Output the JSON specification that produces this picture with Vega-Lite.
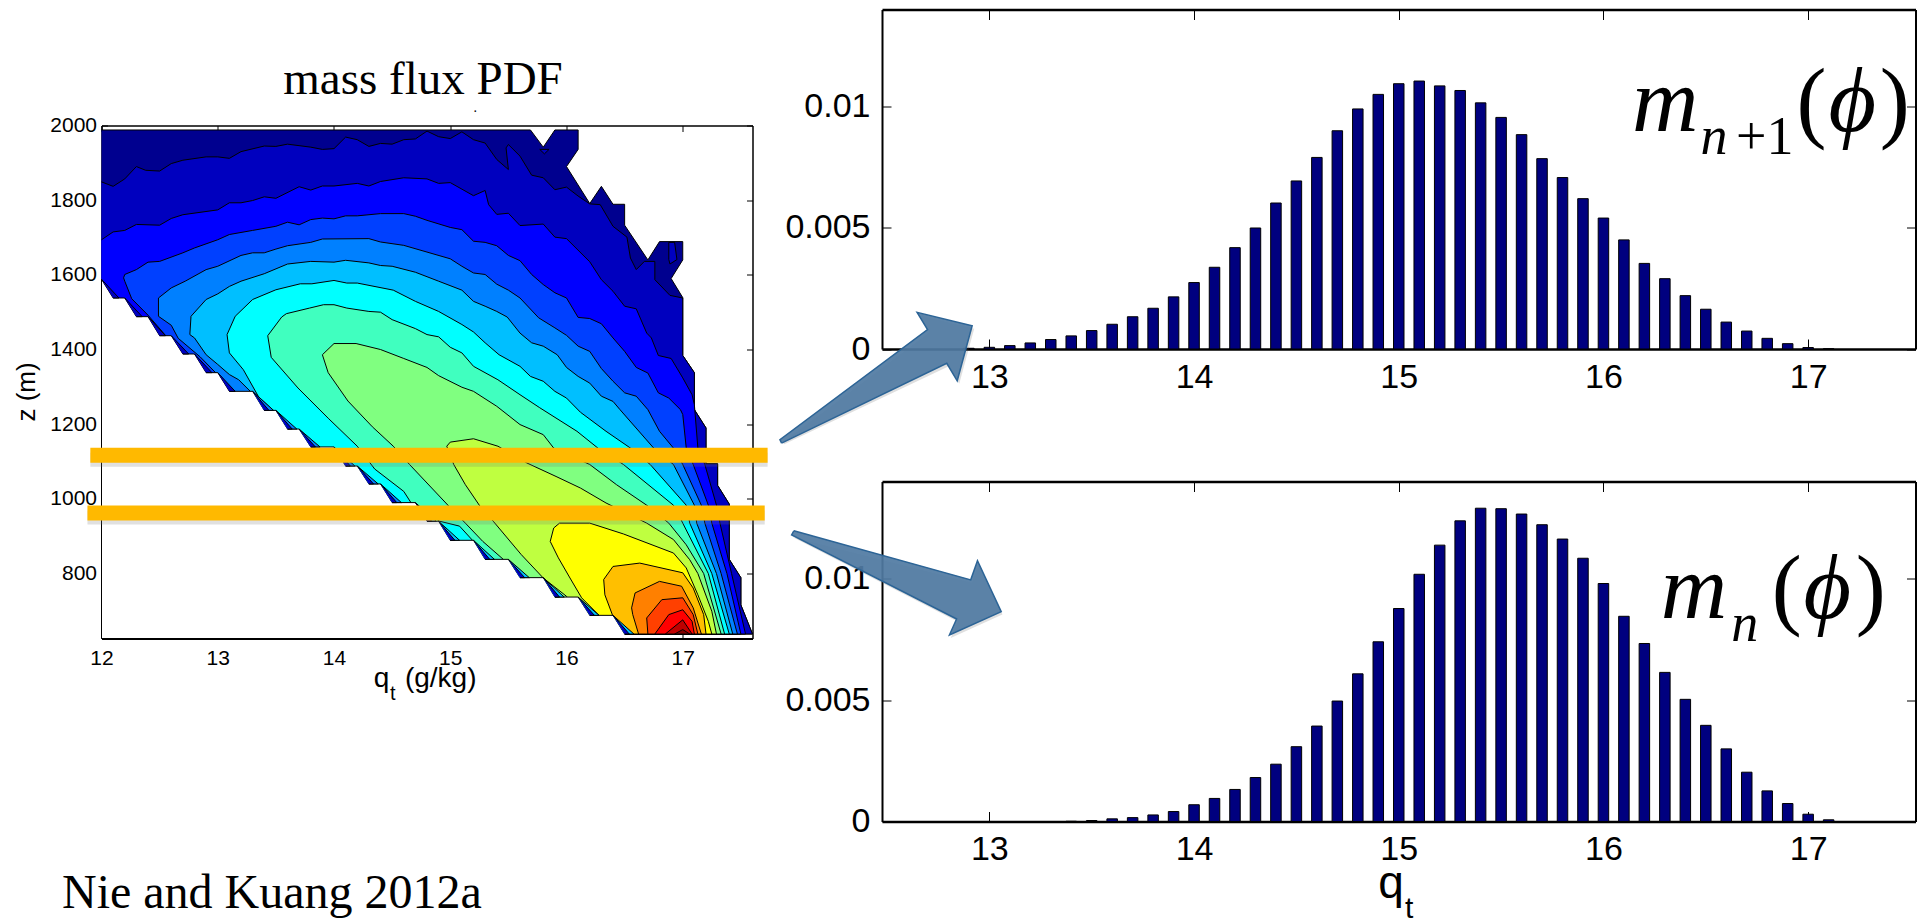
{"$schema":"https://vega.github.io/schema/vega-lite/v6.json","background":"white","padding":{"left":13.5,"top":8.5,"right":0,"bottom":0},"bounds":"flush","spacing":780.5,"config":{"view":{"stroke":null},"axis":{"grid":false,"labelFont":"Liberation Sans","titleFont":"Liberation Sans","labelColor":"black","titleColor":"black","domainColor":"black","tickColor":"black","labelOverlap":false,"labelBound":false,"labelFlush":false,"titleFontWeight":"normal"}},"hconcat":[{"bounds":"flush","spacing":0,"vconcat":[{"width":651,"height":116,"data":{"values":[{"label":"mass flux PDF"}]},"mark":{"type":"text","font":"Liberation Serif","fontSize":47,"dy":26,"dx":-4,"baseline":"alphabetic","color":"black"},"encoding":{"text":{"field":"label"}}},{"width":651,"height":513,"resolve":{"axis":{"x":"independent","y":"independent"}},"encoding":{"x":{"field":"qt","type":"quantitative","scale":{"domain":[12,17.6],"nice":false,"zero":false},"axis":null},"y":{"field":"z","type":"quantitative","scale":{"domain":[626,2000],"nice":false,"zero":false},"axis":null}},"layer":[{"data":{"values":[{"level":"L1","qt":12,"z":1988},{"level":"L1","qt":15.69,"z":1988},{"level":"L1","qt":15.8,"z":1942},{"level":"L1","qt":15.9,"z":1988},{"level":"L1","qt":16.1,"z":1988},{"level":"L1","qt":16.1,"z":1936},{"level":"L1","qt":16,"z":1890},{"level":"L1","qt":16.2,"z":1791},{"level":"L1","qt":16.3,"z":1837},{"level":"L1","qt":16.4,"z":1789},{"level":"L1","qt":16.5,"z":1789},{"level":"L1","qt":16.5,"z":1733},{"level":"L1","qt":16.7,"z":1640},{"level":"L1","qt":16.8,"z":1689},{"level":"L1","qt":17,"z":1689},{"level":"L1","qt":17,"z":1640},{"level":"L1","qt":16.9,"z":1590},{"level":"L1","qt":17,"z":1539},{"level":"L1","qt":17,"z":1384},{"level":"L1","qt":17.1,"z":1338},{"level":"L1","qt":17.1,"z":1239},{"level":"L1","qt":17.2,"z":1190},{"level":"L1","qt":17.2,"z":1094},{"level":"L1","qt":17.3,"z":1094},{"level":"L1","qt":17.3,"z":1036},{"level":"L1","qt":17.4,"z":986},{"level":"L1","qt":17.4,"z":838},{"level":"L1","qt":17.5,"z":789},{"level":"L1","qt":17.5,"z":716},{"level":"L1","qt":17.6,"z":638},{"level":"L1","qt":16,"z":638},{"level":"L1","qt":12,"z":1400},
{"level":"L2","qt":12,"z":1849},{"level":"L2","qt":12.1,"z":1837},{"level":"L2","qt":12.2,"z":1857},{"level":"L2","qt":12.3,"z":1890},{"level":"L2","qt":12.38,"z":1880},{"level":"L2","qt":12.5,"z":1878},{"level":"L2","qt":12.6,"z":1898},{"level":"L2","qt":12.7,"z":1907},{"level":"L2","qt":12.9,"z":1916},{"level":"L2","qt":13,"z":1916},{"level":"L2","qt":13.1,"z":1912},{"level":"L2","qt":13.2,"z":1930},{"level":"L2","qt":13.4,"z":1945},{"level":"L2","qt":13.5,"z":1944},{"level":"L2","qt":13.6,"z":1950},{"level":"L2","qt":13.8,"z":1942},{"level":"L2","qt":13.9,"z":1936},{"level":"L2","qt":14,"z":1938},{"level":"L2","qt":14.1,"z":1969},{"level":"L2","qt":14.2,"z":1962},{"level":"L2","qt":14.3,"z":1944},{"level":"L2","qt":14.4,"z":1952},{"level":"L2","qt":14.5,"z":1950},{"level":"L2","qt":14.6,"z":1962},{"level":"L2","qt":14.7,"z":1964},{"level":"L2","qt":14.8,"z":1985},{"level":"L2","qt":14.9,"z":1970},{"level":"L2","qt":15,"z":1965},{"level":"L2","qt":15.1,"z":1983},{"level":"L2","qt":15.2,"z":1962},{"level":"L2","qt":15.3,"z":1953},{"level":"L2","qt":15.4,"z":1909},{"level":"L2","qt":15.5,"z":1882},{"level":"L2","qt":15.48,"z":1940},{"level":"L2","qt":15.5,"z":1949},{"level":"L2","qt":15.6,"z":1918},{"level":"L2","qt":15.7,"z":1867},{"level":"L2","qt":15.8,"z":1860},{"level":"L2","qt":15.9,"z":1828},{"level":"L2","qt":16,"z":1835},{"level":"L2","qt":16.1,"z":1811},{"level":"L2","qt":16.2,"z":1790},{"level":"L2","qt":16.29,"z":1788},{"level":"L2","qt":16.4,"z":1730},{"level":"L2","qt":16.52,"z":1701},{"level":"L2","qt":16.55,"z":1645},{"level":"L2","qt":16.6,"z":1614},{"level":"L2","qt":16.67,"z":1636},{"level":"L2","qt":16.76,"z":1636},{"level":"L2","qt":16.76,"z":1587},{"level":"L2","qt":16.89,"z":1545},{"level":"L2","qt":17,"z":1538},{"level":"L2","qt":17,"z":1384},{"level":"L2","qt":17.1,"z":1338},{"level":"L2","qt":17.1,"z":1239},{"level":"L2","qt":17.2,"z":1190},{"level":"L2","qt":17.2,"z":1094},{"level":"L2","qt":17.3,"z":1094},{"level":"L2","qt":17.3,"z":1036},{"level":"L2","qt":17.4,"z":986},{"level":"L2","qt":17.4,"z":838},{"level":"L2","qt":17.5,"z":789},{"level":"L2","qt":17.5,"z":716},{"level":"L2","qt":17.6,"z":638},{"level":"L2","qt":16,"z":638},{"level":"L2","qt":12,"z":1400},
{"level":"L2","part":1,"qt":15.77,"z":1936},{"level":"L2","part":1,"qt":15.85,"z":1936},{"level":"L2","part":1,"qt":15.81,"z":1924},{"level":"L2","part":1,"qt":15.77,"z":1936},
{"level":"L2","part":2,"qt":16.88,"z":1687},{"level":"L2","part":2,"qt":16.93,"z":1687},{"level":"L2","part":2,"qt":16.95,"z":1641},{"level":"L2","part":2,"qt":16.89,"z":1629},{"level":"L2","part":2,"qt":16.88,"z":1641},{"level":"L2","part":2,"qt":16.88,"z":1687},
{"level":"L3","qt":12,"z":1694},{"level":"L3","qt":12.1,"z":1715},{"level":"L3","qt":12.2,"z":1719},{"level":"L3","qt":12.3,"z":1735},{"level":"L3","qt":12.5,"z":1733},{"level":"L3","qt":12.6,"z":1751},{"level":"L3","qt":12.7,"z":1761},{"level":"L3","qt":13,"z":1774},{"level":"L3","qt":13.1,"z":1793},{"level":"L3","qt":13.2,"z":1793},{"level":"L3","qt":13.3,"z":1799},{"level":"L3","qt":13.4,"z":1809},{"level":"L3","qt":13.5,"z":1805},{"level":"L3","qt":13.7,"z":1836},{"level":"L3","qt":13.8,"z":1827},{"level":"L3","qt":13.9,"z":1838},{"level":"L3","qt":14,"z":1838},{"level":"L3","qt":14.2,"z":1845},{"level":"L3","qt":14.3,"z":1838},{"level":"L3","qt":14.4,"z":1850},{"level":"L3","qt":14.6,"z":1860},{"level":"L3","qt":14.8,"z":1857},{"level":"L3","qt":14.9,"z":1845},{"level":"L3","qt":15,"z":1847},{"level":"L3","qt":15.2,"z":1812},{"level":"L3","qt":15.3,"z":1826},{"level":"L3","qt":15.33,"z":1788},{"level":"L3","qt":15.4,"z":1762},{"level":"L3","qt":15.5,"z":1765},{"level":"L3","qt":15.6,"z":1732},{"level":"L3","qt":15.8,"z":1736},{"level":"L3","qt":15.9,"z":1701},{"level":"L3","qt":16,"z":1697},{"level":"L3","qt":16.2,"z":1635},{"level":"L3","qt":16.3,"z":1587},{"level":"L3","qt":16.4,"z":1556},{"level":"L3","qt":16.5,"z":1516},{"level":"L3","qt":16.6,"z":1509},{"level":"L3","qt":16.69,"z":1444},{"level":"L3","qt":16.73,"z":1431},{"level":"L3","qt":16.79,"z":1384},{"level":"L3","qt":16.9,"z":1376},{"level":"L3","qt":17,"z":1324},{"level":"L3","qt":17.08,"z":1279},{"level":"L3","qt":17.1,"z":1252},{"level":"L3","qt":17.13,"z":1136},{"level":"L3","qt":17.19,"z":1092},{"level":"L3","qt":17.29,"z":983},{"level":"L3","qt":17.32,"z":935},{"level":"L3","qt":17.42,"z":800},{"level":"L3","qt":17.54,"z":638},{"level":"L3","qt":16,"z":638},{"level":"L3","qt":12,"z":1400},
{"level":"L4","qt":12.19,"z":1592},{"level":"L4","qt":12.2,"z":1601},{"level":"L4","qt":12.3,"z":1614},{"level":"L4","qt":12.4,"z":1634},{"level":"L4","qt":12.5,"z":1636},{"level":"L4","qt":12.7,"z":1659},{"level":"L4","qt":12.8,"z":1672},{"level":"L4","qt":13,"z":1694},{"level":"L4","qt":13.1,"z":1708},{"level":"L4","qt":13.3,"z":1719},{"level":"L4","qt":13.5,"z":1730},{"level":"L4","qt":13.6,"z":1741},{"level":"L4","qt":13.7,"z":1734},{"level":"L4","qt":13.8,"z":1748},{"level":"L4","qt":13.9,"z":1752},{"level":"L4","qt":14,"z":1750},{"level":"L4","qt":14.1,"z":1758},{"level":"L4","qt":14.2,"z":1758},{"level":"L4","qt":14.4,"z":1764},{"level":"L4","qt":14.6,"z":1764},{"level":"L4","qt":14.7,"z":1757},{"level":"L4","qt":14.8,"z":1746},{"level":"L4","qt":15,"z":1727},{"level":"L4","qt":15.1,"z":1721},{"level":"L4","qt":15.2,"z":1690},{"level":"L4","qt":15.3,"z":1687},{"level":"L4","qt":15.4,"z":1678},{"level":"L4","qt":15.5,"z":1652},{"level":"L4","qt":15.6,"z":1638},{"level":"L4","qt":15.7,"z":1601},{"level":"L4","qt":15.8,"z":1574},{"level":"L4","qt":15.9,"z":1552},{"level":"L4","qt":16,"z":1538},{"level":"L4","qt":16.1,"z":1486},{"level":"L4","qt":16.2,"z":1483},{"level":"L4","qt":16.3,"z":1469},{"level":"L4","qt":16.4,"z":1431},{"level":"L4","qt":16.5,"z":1395},{"level":"L4","qt":16.6,"z":1352},{"level":"L4","qt":16.7,"z":1337},{"level":"L4","qt":16.79,"z":1284},{"level":"L4","qt":16.88,"z":1270},{"level":"L4","qt":16.98,"z":1239},{"level":"L4","qt":17,"z":1226},{"level":"L4","qt":17.03,"z":1136},{"level":"L4","qt":17.09,"z":1092},{"level":"L4","qt":17.22,"z":983},{"level":"L4","qt":17.25,"z":935},{"level":"L4","qt":17.38,"z":800},{"level":"L4","qt":17.5,"z":638},{"level":"L4","qt":16,"z":638},{"level":"L4","qt":13.3,"z":1200},{"level":"L4","qt":12.6,"z":1420},{"level":"L4","qt":12.4,"z":1492},{"level":"L4","qt":12.26,"z":1536},{"level":"L4","qt":12.2,"z":1583},{"level":"L4","qt":12.19,"z":1592},
{"level":"L5","qt":12.49,"z":1538},{"level":"L5","qt":12.6,"z":1565},{"level":"L5","qt":12.72,"z":1583},{"level":"L5","qt":12.9,"z":1614},{"level":"L5","qt":13,"z":1623},{"level":"L5","qt":13.2,"z":1652},{"level":"L5","qt":13.3,"z":1659},{"level":"L5","qt":13.4,"z":1659},{"level":"L5","qt":13.5,"z":1669},{"level":"L5","qt":13.6,"z":1678},{"level":"L5","qt":13.8,"z":1687},{"level":"L5","qt":13.9,"z":1696},{"level":"L5","qt":14.3,"z":1697},{"level":"L5","qt":14.4,"z":1688},{"level":"L5","qt":14.6,"z":1679},{"level":"L5","qt":14.8,"z":1661},{"level":"L5","qt":15,"z":1643},{"level":"L5","qt":15.1,"z":1623},{"level":"L5","qt":15.2,"z":1605},{"level":"L5","qt":15.3,"z":1601},{"level":"L5","qt":15.4,"z":1575},{"level":"L5","qt":15.5,"z":1559},{"level":"L5","qt":15.6,"z":1538},{"level":"L5","qt":15.76,"z":1485},{"level":"L5","qt":15.9,"z":1458},{"level":"L5","qt":16,"z":1438},{"level":"L5","qt":16.1,"z":1409},{"level":"L5","qt":16.2,"z":1395},{"level":"L5","qt":16.3,"z":1349},{"level":"L5","qt":16.4,"z":1315},{"level":"L5","qt":16.5,"z":1284},{"level":"L5","qt":16.6,"z":1275},{"level":"L5","qt":16.7,"z":1239},{"level":"L5","qt":16.8,"z":1181},{"level":"L5","qt":16.92,"z":1136},{"level":"L5","qt":17,"z":1092},{"level":"L5","qt":17.16,"z":983},{"level":"L5","qt":17.19,"z":935},{"level":"L5","qt":17.33,"z":800},{"level":"L5","qt":17.47,"z":638},{"level":"L5","qt":16,"z":638},{"level":"L5","qt":13.4,"z":1150},{"level":"L5","qt":13.2,"z":1240},{"level":"L5","qt":13.1,"z":1300},{"level":"L5","qt":12.85,"z":1380},{"level":"L5","qt":12.66,"z":1430},{"level":"L5","qt":12.6,"z":1465},{"level":"L5","qt":12.49,"z":1489},{"level":"L5","qt":12.49,"z":1538},
{"level":"L6","qt":12.76,"z":1440},{"level":"L6","qt":12.77,"z":1489},{"level":"L6","qt":12.9,"z":1534},{"level":"L6","qt":13,"z":1549},{"level":"L6","qt":13.1,"z":1569},{"level":"L6","qt":13.2,"z":1583},{"level":"L6","qt":13.4,"z":1603},{"level":"L6","qt":13.6,"z":1629},{"level":"L6","qt":13.8,"z":1636},{"level":"L6","qt":14,"z":1634},{"level":"L6","qt":14.1,"z":1639},{"level":"L6","qt":14.3,"z":1632},{"level":"L6","qt":14.4,"z":1625},{"level":"L6","qt":14.5,"z":1623},{"level":"L6","qt":14.7,"z":1607},{"level":"L6","qt":14.9,"z":1583},{"level":"L6","qt":15.1,"z":1559},{"level":"L6","qt":15.2,"z":1529},{"level":"L6","qt":15.3,"z":1516},{"level":"L6","qt":15.4,"z":1502},{"level":"L6","qt":15.49,"z":1487},{"level":"L6","qt":15.6,"z":1444},{"level":"L6","qt":15.7,"z":1418},{"level":"L6","qt":15.8,"z":1409},{"level":"L6","qt":15.92,"z":1386},{"level":"L6","qt":16,"z":1352},{"level":"L6","qt":16.1,"z":1328},{"level":"L6","qt":16.2,"z":1310},{"level":"L6","qt":16.3,"z":1275},{"level":"L6","qt":16.4,"z":1261},{"level":"L6","qt":16.46,"z":1239},{"level":"L6","qt":16.75,"z":1136},{"level":"L6","qt":16.92,"z":1092},{"level":"L6","qt":17.1,"z":983},{"level":"L6","qt":17.12,"z":935},{"level":"L6","qt":17.29,"z":800},{"level":"L6","qt":17.43,"z":638},{"level":"L6","qt":16,"z":638},{"level":"L6","qt":13.6,"z":1100},{"level":"L6","qt":13.35,"z":1240},{"level":"L6","qt":13.28,"z":1288},{"level":"L6","qt":13.18,"z":1319},{"level":"L6","qt":13.1,"z":1333},{"level":"L6","qt":13,"z":1360},{"level":"L6","qt":12.9,"z":1386},{"level":"L6","qt":12.8,"z":1431},{"level":"L6","qt":12.76,"z":1440},
{"level":"L7","qt":13.08,"z":1440},{"level":"L7","qt":13.15,"z":1489},{"level":"L7","qt":13.3,"z":1534},{"level":"L7","qt":13.5,"z":1560},{"level":"L7","qt":13.71,"z":1576},{"level":"L7","qt":13.81,"z":1576},{"level":"L7","qt":14,"z":1585},{"level":"L7","qt":14.11,"z":1578},{"level":"L7","qt":14.2,"z":1578},{"level":"L7","qt":14.51,"z":1559},{"level":"L7","qt":14.7,"z":1529},{"level":"L7","qt":14.9,"z":1502},{"level":"L7","qt":15.1,"z":1467},{"level":"L7","qt":15.2,"z":1447},{"level":"L7","qt":15.3,"z":1418},{"level":"L7","qt":15.42,"z":1386},{"level":"L7","qt":15.6,"z":1355},{"level":"L7","qt":15.69,"z":1328},{"level":"L7","qt":15.8,"z":1315},{"level":"L7","qt":15.9,"z":1288},{"level":"L7","qt":16,"z":1270},{"level":"L7","qt":16.12,"z":1232},{"level":"L7","qt":16.34,"z":1181},{"level":"L7","qt":16.55,"z":1136},{"level":"L7","qt":16.72,"z":1092},{"level":"L7","qt":17.03,"z":983},{"level":"L7","qt":17.06,"z":935},{"level":"L7","qt":17.25,"z":800},{"level":"L7","qt":17.4,"z":638},{"level":"L7","qt":16,"z":638},{"level":"L7","qt":14,"z":1000},{"level":"L7","qt":13.78,"z":1146},{"level":"L7","qt":13.35,"z":1274},{"level":"L7","qt":13.22,"z":1346},{"level":"L7","qt":13.1,"z":1391},{"level":"L7","qt":13.08,"z":1440},
{"level":"L8","qt":13.43,"z":1437},{"level":"L8","qt":13.55,"z":1487},{"level":"L8","qt":13.59,"z":1496},{"level":"L8","qt":13.79,"z":1511},{"level":"L8","qt":13.91,"z":1520},{"level":"L8","qt":14,"z":1520},{"level":"L8","qt":14.11,"z":1511},{"level":"L8","qt":14.3,"z":1502},{"level":"L8","qt":14.4,"z":1500},{"level":"L8","qt":14.5,"z":1480},{"level":"L8","qt":14.7,"z":1456},{"level":"L8","qt":14.8,"z":1440},{"level":"L8","qt":14.9,"z":1434},{"level":"L8","qt":15,"z":1406},{"level":"L8","qt":15.1,"z":1391},{"level":"L8","qt":15.2,"z":1355},{"level":"L8","qt":15.41,"z":1319},{"level":"L8","qt":15.6,"z":1279},{"level":"L8","qt":15.77,"z":1244},{"level":"L8","qt":16.09,"z":1181},{"level":"L8","qt":16.27,"z":1136},{"level":"L8","qt":16.49,"z":1092},{"level":"L8","qt":16.92,"z":983},{"level":"L8","qt":17,"z":935},{"level":"L8","qt":17.22,"z":800},{"level":"L8","qt":17.36,"z":638},{"level":"L8","qt":16,"z":638},{"level":"L8","qt":15.3,"z":800},{"level":"L8","qt":15.2,"z":886},{"level":"L8","qt":15.08,"z":927},{"level":"L8","qt":14.91,"z":940},{"level":"L8","qt":14.67,"z":986},{"level":"L8","qt":14.6,"z":1020},{"level":"L8","qt":14.35,"z":1080},{"level":"L8","qt":14.2,"z":1141},{"level":"L8","qt":13.95,"z":1216},{"level":"L8","qt":13.69,"z":1297},{"level":"L8","qt":13.46,"z":1379},{"level":"L8","qt":13.43,"z":1437},
{"level":"L9","qt":13.9,"z":1386},{"level":"L9","qt":14,"z":1416},{"level":"L9","qt":14.19,"z":1416},{"level":"L9","qt":14.4,"z":1400},{"level":"L9","qt":14.6,"z":1376},{"level":"L9","qt":14.8,"z":1352},{"level":"L9","qt":14.9,"z":1330},{"level":"L9","qt":15.1,"z":1299},{"level":"L9","qt":15.2,"z":1288},{"level":"L9","qt":15.4,"z":1248},{"level":"L9","qt":15.6,"z":1199},{"level":"L9","qt":15.8,"z":1172},{"level":"L9","qt":15.89,"z":1136},{"level":"L9","qt":16.2,"z":1092},{"level":"L9","qt":16.43,"z":1038},{"level":"L9","qt":16.69,"z":983},{"level":"L9","qt":16.88,"z":935},{"level":"L9","qt":17.03,"z":877},{"level":"L9","qt":17.18,"z":800},{"level":"L9","qt":17.33,"z":638},{"level":"L9","qt":16,"z":638},{"level":"L9","qt":15.6,"z":780},{"level":"L9","qt":15.46,"z":837},{"level":"L9","qt":15.28,"z":886},{"level":"L9","qt":15.13,"z":935},{"level":"L9","qt":14.98,"z":983},{"level":"L9","qt":14.65,"z":1092},{"level":"L9","qt":14.51,"z":1141},{"level":"L9","qt":14.33,"z":1193},{"level":"L9","qt":14.12,"z":1262},{"level":"L9","qt":13.95,"z":1338},{"level":"L9","qt":13.9,"z":1386},
{"level":"L10","qt":14.97,"z":1141},{"level":"L10","qt":15,"z":1152},{"level":"L10","qt":15.2,"z":1161},{"level":"L10","qt":15.41,"z":1141},{"level":"L10","qt":15.66,"z":1096},{"level":"L10","qt":15.91,"z":1060},{"level":"L10","qt":16.12,"z":1029},{"level":"L10","qt":16.34,"z":989},{"level":"L10","qt":16.69,"z":935},{"level":"L10","qt":16.92,"z":891},{"level":"L10","qt":17.06,"z":837},{"level":"L10","qt":17.13,"z":800},{"level":"L10","qt":17.25,"z":699},{"level":"L10","qt":17.29,"z":638},{"level":"L10","qt":16.2,"z":638},{"level":"L10","qt":16,"z":739},{"level":"L10","qt":15.8,"z":788},{"level":"L10","qt":15.61,"z":851},{"level":"L10","qt":15.37,"z":940},{"level":"L10","qt":15.25,"z":983},{"level":"L10","qt":15.13,"z":1038},{"level":"L10","qt":15.03,"z":1092},{"level":"L10","qt":14.97,"z":1141},
{"level":"L11","qt":15.86,"z":886},{"level":"L11","qt":15.89,"z":922},{"level":"L11","qt":15.94,"z":935},{"level":"L11","qt":16.2,"z":935},{"level":"L11","qt":16.49,"z":906},{"level":"L11","qt":16.92,"z":855},{"level":"L11","qt":17.03,"z":815},{"level":"L11","qt":17.13,"z":743},{"level":"L11","qt":17.22,"z":672},{"level":"L11","qt":17.25,"z":638},{"level":"L11","qt":16.3,"z":638},{"level":"L11","qt":16.29,"z":685},{"level":"L11","qt":16.13,"z":735},{"level":"L11","qt":16.03,"z":788},{"level":"L11","qt":15.93,"z":842},{"level":"L11","qt":15.86,"z":886},
{"level":"L12","qt":16.32,"z":784},{"level":"L12","qt":16.4,"z":819},{"level":"L12","qt":16.63,"z":828},{"level":"L12","qt":17,"z":802},{"level":"L12","qt":17.09,"z":761},{"level":"L12","qt":17.18,"z":690},{"level":"L12","qt":17.2,"z":638},{"level":"L12","qt":16.5,"z":638},{"level":"L12","qt":16.4,"z":685},{"level":"L12","qt":16.33,"z":743},{"level":"L12","qt":16.32,"z":784},
{"level":"L13","qt":16.62,"z":638},{"level":"L13","qt":16.57,"z":690},{"level":"L13","qt":16.56,"z":708},{"level":"L13","qt":16.59,"z":748},{"level":"L13","qt":16.8,"z":779},{"level":"L13","qt":16.99,"z":766},{"level":"L13","qt":17.09,"z":708},{"level":"L13","qt":17.16,"z":638},{"level":"L13","qt":16.62,"z":638},
{"level":"L14","qt":16.7,"z":638},{"level":"L14","qt":16.69,"z":681},{"level":"L14","qt":16.82,"z":730},{"level":"L14","qt":17,"z":735},{"level":"L14","qt":17.09,"z":690},{"level":"L14","qt":17.13,"z":638},{"level":"L14","qt":16.7,"z":638},
{"level":"L15","qt":16.76,"z":638},{"level":"L15","qt":16.88,"z":690},{"level":"L15","qt":17,"z":703},{"level":"L15","qt":17.08,"z":672},{"level":"L15","qt":17.1,"z":638},{"level":"L15","qt":16.76,"z":638},
{"level":"L16","qt":16.85,"z":638},{"level":"L16","qt":17,"z":676},{"level":"L16","qt":17.08,"z":638},{"level":"L16","qt":16.85,"z":638},
{"level":"L17","qt":16.93,"z":638},{"level":"L17","qt":17,"z":650},{"level":"L17","qt":17.06,"z":638},{"level":"L17","qt":16.93,"z":638},
{"level":"empty","qt":16.5,"z":638},{"level":"empty","qt":16.4,"z":688},{"level":"empty","qt":16.2,"z":688},{"level":"empty","qt":16.1,"z":737},{"level":"empty","qt":15.9,"z":737},{"level":"empty","qt":15.8,"z":789},{"level":"empty","qt":15.6,"z":789},{"level":"empty","qt":15.5,"z":838},{"level":"empty","qt":15.3,"z":838},{"level":"empty","qt":15.2,"z":889},{"level":"empty","qt":15,"z":889},{"level":"empty","qt":14.9,"z":940},{"level":"empty","qt":14.8,"z":940},{"level":"empty","qt":14.7,"z":990},{"level":"empty","qt":14.5,"z":990},{"level":"empty","qt":14.4,"z":1040},{"level":"empty","qt":14.3,"z":1040},{"level":"empty","qt":14.2,"z":1088},{"level":"empty","qt":14.1,"z":1088},{"level":"empty","qt":14,"z":1139},{"level":"empty","qt":13.8,"z":1139},{"level":"empty","qt":13.7,"z":1187},{"level":"empty","qt":13.6,"z":1187},{"level":"empty","qt":13.5,"z":1237},{"level":"empty","qt":13.4,"z":1237},{"level":"empty","qt":13.3,"z":1288},{"level":"empty","qt":13.1,"z":1288},{"level":"empty","qt":13,"z":1338},{"level":"empty","qt":12.9,"z":1338},{"level":"empty","qt":12.8,"z":1388},{"level":"empty","qt":12.7,"z":1388},{"level":"empty","qt":12.6,"z":1437},{"level":"empty","qt":12.5,"z":1437},{"level":"empty","qt":12.4,"z":1488},{"level":"empty","qt":12.3,"z":1488},{"level":"empty","qt":12.2,"z":1538},{"level":"empty","qt":12.1,"z":1538},{"level":"empty","qt":12,"z":1588},{"level":"empty","qt":12,"z":626},{"level":"empty","qt":16.5,"z":626},
{"level":"L6","part":11,"qt":16.5,"z":638},{"level":"L6","part":11,"qt":16.58,"z":638},{"level":"L6","part":11,"qt":16.4,"z":688},{"level":"L2","part":12,"qt":16.5,"z":638},{"level":"L2","part":12,"qt":16.54,"z":638},{"level":"L2","part":12,"qt":16.4,"z":688},
{"level":"L6","part":21,"qt":16.2,"z":688},{"level":"L6","part":21,"qt":16.28,"z":688},{"level":"L6","part":21,"qt":16.1,"z":737},{"level":"L2","part":22,"qt":16.2,"z":688},{"level":"L2","part":22,"qt":16.24,"z":688},{"level":"L2","part":22,"qt":16.1,"z":737},
{"level":"L6","part":31,"qt":15.9,"z":737},{"level":"L6","part":31,"qt":15.98,"z":737},{"level":"L6","part":31,"qt":15.8,"z":789},{"level":"L2","part":32,"qt":15.9,"z":737},{"level":"L2","part":32,"qt":15.94,"z":737},{"level":"L2","part":32,"qt":15.8,"z":789},
{"level":"L6","part":41,"qt":15.6,"z":789},{"level":"L6","part":41,"qt":15.68,"z":789},{"level":"L6","part":41,"qt":15.5,"z":838},{"level":"L2","part":42,"qt":15.6,"z":789},{"level":"L2","part":42,"qt":15.64,"z":789},{"level":"L2","part":42,"qt":15.5,"z":838},
{"level":"L6","part":51,"qt":15.3,"z":838},{"level":"L6","part":51,"qt":15.38,"z":838},{"level":"L6","part":51,"qt":15.2,"z":889},{"level":"L2","part":52,"qt":15.3,"z":838},{"level":"L2","part":52,"qt":15.34,"z":838},{"level":"L2","part":52,"qt":15.2,"z":889},
{"level":"L6","part":61,"qt":15,"z":889},{"level":"L6","part":61,"qt":15.08,"z":889},{"level":"L6","part":61,"qt":14.9,"z":940},{"level":"L2","part":62,"qt":15,"z":889},{"level":"L2","part":62,"qt":15.04,"z":889},{"level":"L2","part":62,"qt":14.9,"z":940},
{"level":"L5","part":71,"qt":14.8,"z":940},{"level":"L5","part":71,"qt":14.88,"z":940},{"level":"L5","part":71,"qt":14.7,"z":990},{"level":"L2","part":72,"qt":14.8,"z":940},{"level":"L2","part":72,"qt":14.84,"z":940},{"level":"L2","part":72,"qt":14.7,"z":990},
{"level":"L5","part":81,"qt":14.5,"z":990},{"level":"L5","part":81,"qt":14.58,"z":990},{"level":"L5","part":81,"qt":14.4,"z":1040},{"level":"L2","part":82,"qt":14.5,"z":990},{"level":"L2","part":82,"qt":14.54,"z":990},{"level":"L2","part":82,"qt":14.4,"z":1040},
{"level":"L5","part":91,"qt":14.3,"z":1040},{"level":"L5","part":91,"qt":14.38,"z":1040},{"level":"L5","part":91,"qt":14.2,"z":1088},{"level":"L2","part":92,"qt":14.3,"z":1040},{"level":"L2","part":92,"qt":14.34,"z":1040},{"level":"L2","part":92,"qt":14.2,"z":1088},
{"level":"L5","part":101,"qt":14.1,"z":1088},{"level":"L5","part":101,"qt":14.18,"z":1088},{"level":"L5","part":101,"qt":14,"z":1139},{"level":"L2","part":102,"qt":14.1,"z":1088},{"level":"L2","part":102,"qt":14.14,"z":1088},{"level":"L2","part":102,"qt":14,"z":1139},
{"level":"L5","part":111,"qt":13.8,"z":1139},{"level":"L5","part":111,"qt":13.88,"z":1139},{"level":"L5","part":111,"qt":13.7,"z":1187},{"level":"L2","part":112,"qt":13.8,"z":1139},{"level":"L2","part":112,"qt":13.84,"z":1139},{"level":"L2","part":112,"qt":13.7,"z":1187},
{"level":"L5","part":121,"qt":13.6,"z":1187},{"level":"L5","part":121,"qt":13.68,"z":1187},{"level":"L5","part":121,"qt":13.5,"z":1237},{"level":"L2","part":122,"qt":13.6,"z":1187},{"level":"L2","part":122,"qt":13.64,"z":1187},{"level":"L2","part":122,"qt":13.5,"z":1237},
{"level":"L5","part":131,"qt":13.4,"z":1237},{"level":"L5","part":131,"qt":13.48,"z":1237},{"level":"L5","part":131,"qt":13.3,"z":1288},{"level":"L2","part":132,"qt":13.4,"z":1237},{"level":"L2","part":132,"qt":13.44,"z":1237},{"level":"L2","part":132,"qt":13.3,"z":1288},
{"level":"L2","part":142,"qt":13.1,"z":1288},{"level":"L2","part":142,"qt":13.15,"z":1288},{"level":"L2","part":142,"qt":13,"z":1338},
{"level":"L2","part":152,"qt":12.9,"z":1338},{"level":"L2","part":152,"qt":12.95,"z":1338},{"level":"L2","part":152,"qt":12.8,"z":1388},
{"level":"L2","part":162,"qt":12.7,"z":1388},{"level":"L2","part":162,"qt":12.75,"z":1388},{"level":"L2","part":162,"qt":12.6,"z":1437},
{"level":"L2","part":172,"qt":12.5,"z":1437},{"level":"L2","part":172,"qt":12.55,"z":1437},{"level":"L2","part":172,"qt":12.4,"z":1488},
{"level":"L2","part":182,"qt":12.3,"z":1488},{"level":"L2","part":182,"qt":12.35,"z":1488},{"level":"L2","part":182,"qt":12.2,"z":1538},
{"level":"L2","part":192,"qt":12.1,"z":1538},{"level":"L2","part":192,"qt":12.15,"z":1538},{"level":"L2","part":192,"qt":12,"z":1588}]},"mark":{"type":"line","stroke":"black","strokeWidth":1},"encoding":{"order":{"value":null},"detail":{"field":"part","type":"nominal"},"fill":{"field":"level","type":"nominal","legend":null,"scale":{"domain":["L1","L2","L3","L4","L5","L6","L7","L8","L9","L10","L11","L12","L13","L14","L15","L16","L17","empty"],"range":["#00008F","#0000BF","#0000FF","#0040FF","#0080FF","#00BFFF","#00FFFF","#40FFBF","#80FF80","#BFFF40","#FFFF00","#FFBF00","#FF8000","#FF4000","#FF0000","#BF0000","#800000","#FFFFFF"]}},"x":{"field":"qt","type":"quantitative","scale":{"domain":[12,17.6],"nice":false,"zero":false},"axis":{"orient":"bottom","title":null,"values":[12,13,14,15,16,17],"tickSize":-6,"labelPadding":15,"labelFontSize":21,"domainWidth":2,"tickWidth":1}},"y":{"field":"z","type":"quantitative","scale":{"domain":[626,2000],"nice":false,"zero":false},"axis":{"orient":"left","title":"z (m)","format":"d","titleFontSize":26,"titlePadding":10,"titleY":266,"values":[800,1000,1200,1400,1600,1800,2000],"tickSize":-6,"labelPadding":11,"labelFontSize":21,"domainWidth":1.5,"tickWidth":1}}}},
{"data":{"values":[{"qt":11.904,"qtEnd":17.73,"z":1105},{"qt":11.879,"qtEnd":17.705,"z":950}]},"mark":{"type":"rule","color":"#707070","opacity":0.22,"strokeWidth":14},"encoding":{"x2":{"field":"qtEnd"}}},
{"data":{"values":[{"qt":11.904,"qtEnd":17.73,"z":1117},{"qt":11.879,"qtEnd":17.705,"z":962}]},"mark":{"type":"rule","color":"#FFB900","strokeWidth":15},"encoding":{"x2":{"field":"qtEnd"}}},
{"data":{"values":[{"label":"q","qt":14.343,"z":497},{"label":"(g/kg)","qt":14.61,"z":497}]},"mark":{"type":"text","font":"Liberation Sans","fontSize":28,"align":"left","baseline":"alphabetic","color":"black"},"encoding":{"text":{"field":"label"},"x":{"field":"qt","type":"quantitative","scale":{"domain":[12,17.6],"nice":false,"zero":false},"axis":{"orient":"top","title":null,"labels":false,"values":[12,13,14,15,16,17],"tickSize":-6,"domainWidth":1.5,"tickWidth":1}},"y":{"field":"z","type":"quantitative","scale":{"domain":[626,2000],"nice":false,"zero":false},"axis":{"orient":"right","title":null,"labels":false,"values":[800,1000,1200,1400,1600,1800,2000],"tickSize":-6,"domainWidth":1.5,"tickWidth":1}}}},
{"data":{"values":[{"label":"t","qt":14.481,"z":462}]},"mark":{"type":"text","font":"Liberation Sans","fontSize":20,"align":"left","baseline":"alphabetic","color":"black"},"encoding":{"text":{"field":"label"}}},
{"data":{"values":[{"label":"Nie and Kuang 2012a","qt":11.66,"z":-97}]},"mark":{"type":"text","font":"Liberation Serif","fontSize":48,"align":"left","baseline":"alphabetic","color":"black"},"encoding":{"text":{"field":"label"}}},
{"data":{"values":[{"label":".","qt":15.2,"z":2035}]},"mark":{"type":"text","font":"Liberation Serif","fontSize":14,"align":"left","baseline":"alphabetic","color":"black"},"encoding":{"text":{"field":"label"}}}]}]},
{"bounds":"flush","spacing":132,"vconcat":[{"width":1033.5,"height":339.5,"resolve":{"axis":{"x":"independent","y":"independent"}},"encoding":{"x":{"field":"qt","type":"quantitative","scale":{"domain":[12.5,17.5],"nice":false,"zero":false},"axis":null},"y":{"field":"value","type":"quantitative","scale":{"domain":[0,0.014],"nice":false,"zero":false},"axis":null}},"layer":[{"data":{"values":[{"qt":12.9,"value":0.00003},{"qt":13,"value":0.00007},{"qt":13.1,"value":0.00014},{"qt":13.2,"value":0.00025},{"qt":13.3,"value":0.00039},{"qt":13.4,"value":0.00054},{"qt":13.5,"value":0.00076},{"qt":13.6,"value":0.00102},{"qt":13.7,"value":0.00133},{"qt":13.8,"value":0.00168},{"qt":13.9,"value":0.00215},{"qt":14,"value":0.00274},{"qt":14.1,"value":0.00337},{"qt":14.2,"value":0.00418},{"qt":14.3,"value":0.00499},{"qt":14.4,"value":0.00602},{"qt":14.5,"value":0.00693},{"qt":14.6,"value":0.0079},{"qt":14.7,"value":0.009},{"qt":14.8,"value":0.0099},{"qt":14.9,"value":0.0105},{"qt":15,"value":0.01094},{"qt":15.1,"value":0.01105},{"qt":15.2,"value":0.01085},{"qt":15.3,"value":0.01066},{"qt":15.4,"value":0.01015},{"qt":15.5,"value":0.00955},{"qt":15.6,"value":0.00884},{"qt":15.7,"value":0.00785},{"qt":15.8,"value":0.00707},{"qt":15.9,"value":0.0062},{"qt":16,"value":0.0054},{"qt":16.1,"value":0.0045},{"qt":16.2,"value":0.00353},{"qt":16.3,"value":0.0029},{"qt":16.4,"value":0.0022},{"qt":16.5,"value":0.00164},{"qt":16.6,"value":0.00111},{"qt":16.7,"value":0.00074},{"qt":16.8,"value":0.00044},{"qt":16.9,"value":0.00022},{"qt":17,"value":0.00006},{"qt":17.1,"value":0.00001}]},"mark":{"type":"bar","width":10.5,"fill":"#00007F","stroke":"black","strokeWidth":1},"encoding":{"x":{"field":"qt","type":"quantitative","scale":{"domain":[12.5,17.5],"nice":false,"zero":false},"axis":{"orient":"bottom","title":null,"values":[13,14,15,16,17],"tickSize":-10,"labelPadding":21,"labelFontSize":34,"domainWidth":2.5,"tickWidth":1}},"y":{"field":"value","type":"quantitative","scale":{"domain":[0,0.014],"nice":false,"zero":false},"axis":{"orient":"left","title":null,"values":[0,0.005,0.01],"format":"~g","tickSize":-9,"labelPadding":21,"labelFontSize":34,"domainWidth":2,"tickWidth":1}}}},
{"data":{"values":[{"label":"m","qt":16.14,"value":0.009},{"label":"ϕ","qt":17.1,"value":0.009}]},"mark":{"type":"text","font":"Liberation Serif","fontStyle":"italic","fontSize":92,"align":"left","baseline":"alphabetic","color":"black"},"encoding":{"text":{"field":"label"},"x":{"field":"qt","type":"quantitative","scale":{"domain":[12.5,17.5],"nice":false,"zero":false},"axis":{"orient":"top","title":null,"labels":false,"values":[13,14,15,16,17],"tickSize":-10,"domainWidth":2.5,"tickWidth":1}},"y":{"field":"value","type":"quantitative","scale":{"domain":[0,0.014],"nice":false,"zero":false},"axis":{"orient":"right","title":null,"labels":false,"values":[0,0.005,0.01],"tickSize":-9,"domainWidth":2,"tickWidth":1}}}},
{"data":{"values":[{"label":"(","qt":16.943,"value":0.009},{"label":")","qt":17.35,"value":0.009}]},"mark":{"type":"text","font":"Liberation Serif","fontSize":90,"align":"left","baseline":"alphabetic","color":"black"},"encoding":{"text":{"field":"label"}}},
{"data":{"values":[{"label":"n","qt":16.474,"value":0.00806}]},"mark":{"type":"text","font":"Liberation Serif","fontStyle":"italic","fontSize":54,"align":"left","baseline":"alphabetic","color":"black"},"encoding":{"text":{"field":"label"}}},
{"data":{"values":[{"label":"+1","qt":16.648,"value":0.00806}]},"mark":{"type":"text","font":"Liberation Serif","fontSize":54,"align":"left","baseline":"alphabetic","color":"black"},"encoding":{"text":{"field":"label"}}},
{"data":{"values":[{"qt":11.998,"value":-0.00393},{"qt":12.802,"value":-0.00071},{"qt":12.853,"value":-0.00143},{"qt":12.926,"value":0.00084},{"qt":12.657,"value":0.00139},{"qt":12.708,"value":0.00068},{"qt":11.99,"value":-0.00386}]},"mark":{"type":"line","fill":"#606060","opacity":0.2,"stroke":null,"strokeWidth":0},"encoding":{"order":{"value":null}}},
{"data":{"values":[{"qt":11.985,"value":-0.00388},{"qt":12.792,"value":-0.00059},{"qt":12.843,"value":-0.00131},{"qt":12.916,"value":0.00096},{"qt":12.647,"value":0.00151},{"qt":12.698,"value":0.0008},{"qt":11.977,"value":-0.00374},{"qt":11.985,"value":-0.00388}]},"mark":{"type":"line","fill":"#4F79A2","fillOpacity":0.92,"stroke":"#2C6496","strokeWidth":1.5},"encoding":{"order":{"value":null}}}]},
{"width":1033.5,"height":340,"resolve":{"axis":{"x":"independent","y":"independent"}},"encoding":{"x":{"field":"qt","type":"quantitative","scale":{"domain":[12.5,17.5],"nice":false,"zero":false},"axis":null},"y":{"field":"value","type":"quantitative","scale":{"domain":[0,0.014],"nice":false,"zero":false},"axis":null}},"layer":[{"data":{"values":[{"qt":13.4,"value":0.00001},{"qt":13.5,"value":0.00004},{"qt":13.6,"value":0.00011},{"qt":13.7,"value":0.00016},{"qt":13.8,"value":0.00027},{"qt":13.9,"value":0.00041},{"qt":14,"value":0.00069},{"qt":14.1,"value":0.00095},{"qt":14.2,"value":0.00132},{"qt":14.3,"value":0.00181},{"qt":14.4,"value":0.00236},{"qt":14.5,"value":0.00308},{"qt":14.6,"value":0.00393},{"qt":14.7,"value":0.00496},{"qt":14.8,"value":0.00608},{"qt":14.9,"value":0.0074},{"qt":15,"value":0.00877},{"qt":15.1,"value":0.01018},{"qt":15.2,"value":0.01138},{"qt":15.3,"value":0.01238},{"qt":15.4,"value":0.0129},{"qt":15.5,"value":0.01288},{"qt":15.6,"value":0.01266},{"qt":15.7,"value":0.01222},{"qt":15.8,"value":0.01163},{"qt":15.9,"value":0.01084},{"qt":16,"value":0.0098},{"qt":16.1,"value":0.00845},{"qt":16.2,"value":0.00733},{"qt":16.3,"value":0.00614},{"qt":16.4,"value":0.00503},{"qt":16.5,"value":0.00396},{"qt":16.6,"value":0.00299},{"qt":16.7,"value":0.00203},{"qt":16.8,"value":0.00126},{"qt":16.9,"value":0.00074},{"qt":17,"value":0.0003},{"qt":17.1,"value":0.00007}]},"mark":{"type":"bar","width":10.5,"fill":"#00007F","stroke":"black","strokeWidth":1},"encoding":{"x":{"field":"qt","type":"quantitative","scale":{"domain":[12.5,17.5],"nice":false,"zero":false},"axis":{"orient":"bottom","title":null,"values":[13,14,15,16,17],"tickSize":-10,"labelPadding":21,"labelFontSize":34,"domainWidth":2.5,"tickWidth":1}},"y":{"field":"value","type":"quantitative","scale":{"domain":[0,0.014],"nice":false,"zero":false},"axis":{"orient":"left","title":null,"values":[0,0.005,0.01],"format":"~g","tickSize":-9,"labelPadding":21,"labelFontSize":34,"domainWidth":2,"tickWidth":1}}}},
{"data":{"values":[{"label":"m","qt":16.28,"value":0.00839},{"label":"ϕ","qt":16.977,"value":0.00839}]},"mark":{"type":"text","font":"Liberation Serif","fontStyle":"italic","fontSize":92,"align":"left","baseline":"alphabetic","color":"black"},"encoding":{"text":{"field":"label"},"x":{"field":"qt","type":"quantitative","scale":{"domain":[12.5,17.5],"nice":false,"zero":false},"axis":{"orient":"top","title":null,"labels":false,"values":[13,14,15,16,17],"tickSize":-10,"domainWidth":2.5,"tickWidth":1}},"y":{"field":"value","type":"quantitative","scale":{"domain":[0,0.014],"nice":false,"zero":false},"axis":{"orient":"right","title":null,"labels":false,"values":[0,0.005,0.01],"tickSize":-9,"domainWidth":2,"tickWidth":1}}}},
{"data":{"values":[{"label":"(","qt":16.822,"value":0.00839},{"label":")","qt":17.232,"value":0.00839}]},"mark":{"type":"text","font":"Liberation Serif","fontSize":90,"align":"left","baseline":"alphabetic","color":"black"},"encoding":{"text":{"field":"label"}}},
{"data":{"values":[{"label":"n","qt":16.624,"value":0.00745}]},"mark":{"type":"text","font":"Liberation Serif","fontStyle":"italic","fontSize":54,"align":"left","baseline":"alphabetic","color":"black"},"encoding":{"text":{"field":"label"}}},
{"data":{"values":[{"label":"q","qt":14.9,"value":-0.00316}]},"mark":{"type":"text","font":"Liberation Sans","fontSize":46,"align":"left","baseline":"alphabetic","color":"black"},"encoding":{"text":{"field":"label"}}},
{"data":{"values":[{"label":"t","qt":15.03,"value":-0.00399}]},"mark":{"type":"text","font":"Liberation Sans","fontSize":30,"align":"left","baseline":"alphabetic","color":"black"},"encoding":{"text":{"field":"label"}}},
{"data":{"values":[{"qt":12.05,"value":0.01168},{"qt":12.915,"value":0.00983},{"qt":12.948,"value":0.01062},{"qt":13.064,"value":0.00852},{"qt":12.811,"value":0.00756},{"qt":12.846,"value":0.00822},{"qt":12.04,"value":0.0117}]},"mark":{"type":"line","fill":"#606060","opacity":0.2,"stroke":null,"strokeWidth":0},"encoding":{"order":{"value":null}}},
{"data":{"values":[{"qt":12.045,"value":0.01197},{"qt":12.909,"value":0.00995},{"qt":12.942,"value":0.01074},{"qt":13.058,"value":0.00864},{"qt":12.805,"value":0.00768},{"qt":12.84,"value":0.00834},{"qt":12.034,"value":0.0118},{"qt":12.045,"value":0.01197}]},"mark":{"type":"line","fill":"#4F79A2","fillOpacity":0.92,"stroke":"#2C6496","strokeWidth":1.5},"encoding":{"order":{"value":null}}}]}]}]}
